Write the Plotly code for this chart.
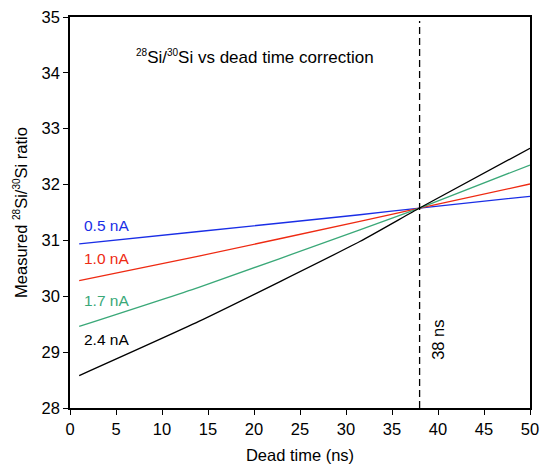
import plotly.graph_objects as go

dead_time = [1, 14, 31.5, 38, 50]
ratio_05 = [30.94, 31.16, 31.46, 31.58, 31.79]
ratio_10 = [30.28, 30.72, 31.34, 31.58, 32.01]
ratio_17 = [29.46, 30.16, 31.19, 31.58, 32.35]
ratio_24 = [28.58, 29.55, 30.98, 31.58, 32.65]

series_names = ["0.5 nA", "1.0 nA", "1.7 nA", "2.4 nA"]
series_colors = ["#1a2ee6", "#ee2a12", "#3aa878", "#000000"]
label_y = [31.27, 30.67, 29.93, 29.22]

x_ticks = [0, 5, 10, 15, 20, 25, 30, 35, 40, 45, 50]
y_ticks = [28, 29, 30, 31, 32, 33, 34, 35]
dead_time_marker = 38

FONT = "Liberation Sans, Arial, Helvetica, sans-serif"

fig = go.Figure()
for name, vals, col in zip(series_names, [ratio_05, ratio_10, ratio_17, ratio_24], series_colors):
    fig.add_trace(go.Scatter(x=dead_time, y=vals, mode="lines", name=name,
                             line=dict(color=col, width=1.3, shape="spline", smoothing=0.5),
                             showlegend=False))

fig.add_trace(go.Scatter(x=[dead_time_marker, dead_time_marker], y=[28, 34.93], mode="lines",
                         line=dict(color="black", width=1.3, dash="7px,4px"), showlegend=False))

for name, ly, col in zip(series_names, label_y, series_colors):
    fig.add_annotation(x=1.3, y=ly, text=name, showarrow=False, xanchor="left", yanchor="middle",
                       font=dict(family=FONT, size=15.5, color=col))

fig.add_annotation(x=20.1, y=34.29,
                   text="<sup><span style='font-size:10px'>28</span></sup>Si/<sup><span style='font-size:10px'>30</span></sup>Si vs dead time correction",
                   showarrow=False, xanchor="center", yanchor="middle",
                   font=dict(family=FONT, size=17, color="black"))
fig.add_annotation(x=40.0, y=29.22, text="38 ns", textangle=-90, showarrow=False,
                   xanchor="center", yanchor="middle",
                   font=dict(family=FONT, size=16.5, color="black"))

fig.update_layout(
    width=541, height=469,
    margin=dict(l=70, r=11, t=17, b=61),
    plot_bgcolor="white", paper_bgcolor="white",
    font=dict(family=FONT, size=16.5, color="black"),
    xaxis=dict(range=[0, 50], tickvals=x_ticks, showgrid=False, zeroline=False,
               showline=True, linecolor="black", linewidth=1.5, mirror=True,
               ticks="outside", ticklen=5, tickcolor="black", automargin=False,
               title=dict(text="Dead time (ns)", font=dict(size=16.5), standoff=13)),
    yaxis=dict(range=[28, 35], tickvals=y_ticks, showgrid=False, zeroline=False,
               showline=True, linecolor="black", linewidth=1.5, mirror=True,
               ticks="outside", ticklen=5, tickcolor="black", automargin=False,
               title=dict(text="Measured <sup><span style='font-size:10px'>28</span></sup>Si/<sup><span style='font-size:10px'>30</span></sup>Si ratio",
                          font=dict(size=16.5), standoff=10)),
)

fig.write_html("out.html", config={"displayModeBar": False},
               post_script="document.body.style.margin='0';")
